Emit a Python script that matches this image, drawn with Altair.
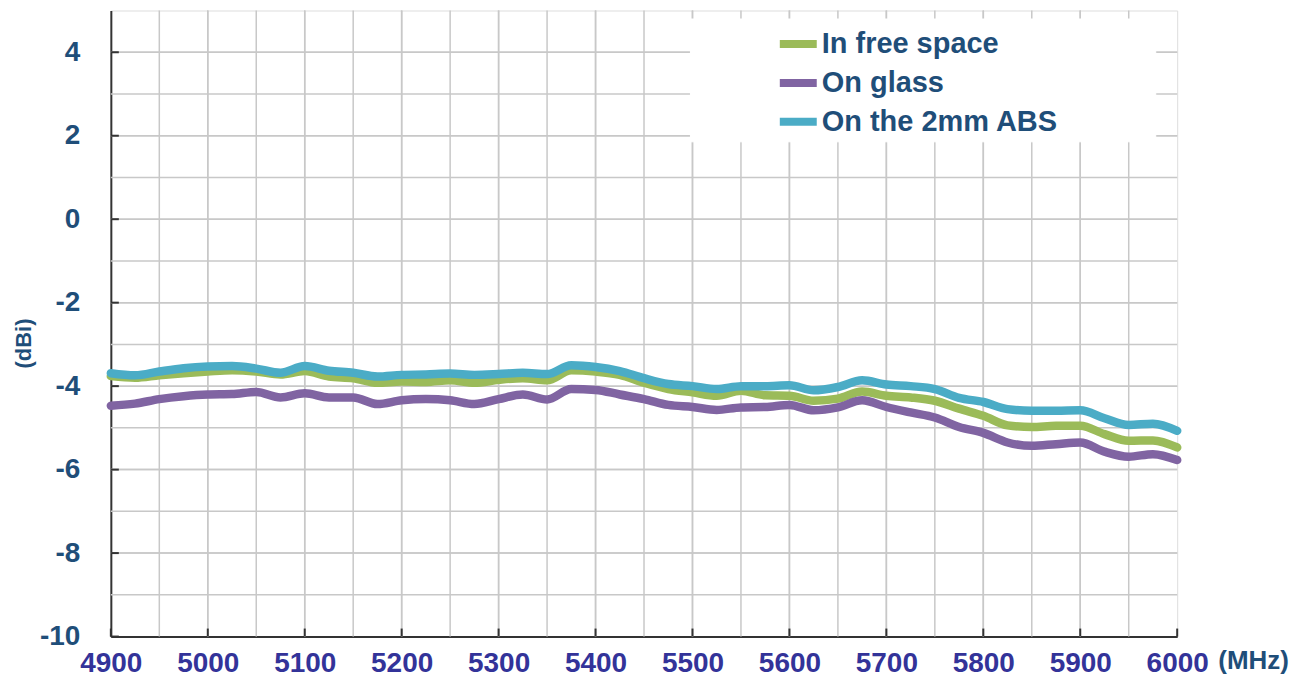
import altair as alt
import pandas as pd

freq = [4900, 4925, 4950, 4975, 5000, 5025, 5050, 5075, 5100, 5125, 5150,
        5175, 5200, 5225, 5250, 5275, 5300, 5325, 5350, 5375, 5400, 5425,
        5450, 5475, 5500, 5525, 5550, 5575, 5600, 5625, 5650, 5675, 5700,
        5725, 5750, 5775, 5800, 5825, 5850, 5875, 5900, 5925, 5950, 5975, 6000]

free_space = [-3.76, -3.80, -3.74, -3.69, -3.65, -3.62, -3.65, -3.72, -3.64, -3.77, -3.81,
              -3.92, -3.89, -3.90, -3.86, -3.92, -3.85, -3.81, -3.86, -3.62, -3.65, -3.73,
              -3.92, -4.07, -4.15, -4.23, -4.11, -4.22, -4.23, -4.35, -4.30, -4.13, -4.23,
              -4.27, -4.35, -4.54, -4.71, -4.94, -4.98, -4.95, -4.95, -5.15, -5.31, -5.30, -5.47]

glass = [-4.47, -4.42, -4.31, -4.24, -4.20, -4.19, -4.14, -4.27, -4.17, -4.27, -4.27,
         -4.43, -4.34, -4.31, -4.34, -4.43, -4.31, -4.20, -4.32, -4.07, -4.09, -4.20,
         -4.31, -4.45, -4.50, -4.57, -4.51, -4.50, -4.45, -4.58, -4.51, -4.34, -4.50,
         -4.63, -4.75, -4.98, -5.12, -5.35, -5.43, -5.39, -5.35, -5.57, -5.69, -5.63, -5.77]

abs_2mm = [-3.69, -3.74, -3.65, -3.57, -3.53, -3.52, -3.58, -3.68, -3.52, -3.63, -3.68,
           -3.77, -3.73, -3.72, -3.70, -3.73, -3.71, -3.68, -3.71, -3.50, -3.54, -3.64,
           -3.81, -3.95, -4.00, -4.07, -4.00, -4.00, -3.98, -4.10, -4.02, -3.86, -3.96,
           -4.00, -4.07, -4.28, -4.38, -4.55, -4.59, -4.59, -4.58, -4.77, -4.93, -4.90, -5.07]

series_names = ["In free space", "On glass", "On the 2mm ABS"]
series_colors = ["#9BBB59", "#8064A2", "#4BACC6"]
y_label_ticks = [-10, -8, -6, -4, -2, 0, 2, 4]
x_label_ticks = [4900, 5000, 5100, 5200, 5300, 5400, 5500, 5600, 5700, 5800, 5900, 6000]
x_grid = list(range(4950, 6000, 50))
y_grid = list(range(-9, 5, 1))

rows = []
for name, vals in zip(series_names, [free_space, glass, abs_2mm]):
    for f, v in zip(freq, vals):
        rows.append({"freq": f, "gain": v, "series": name})
df = pd.DataFrame(rows)

W, H = 1068, 627
BLUE = "#1F4E79"
XLAB = "#333399"
GRID = "#c8c8c8"
PAD_TAIL = "\u00a0" * 9 + "\u2800"

x_scale = alt.Scale(domain=[4900, 6000], nice=False, zero=False)
y_scale = alt.Scale(domain=[-10, 5], nice=False, zero=False)

x_axis = alt.Axis(
    values=x_label_ticks, labelExpr="'' + datum.value",
    labelFont="Liberation Sans", labelFontSize=28,
    labelFontWeight="bold", labelColor=XLAB, labelFlush=False, labelOverlap=False,
    labelPadding=13, tickSize=0, grid=False,
    domainColor="#333333", domainWidth=2,
    title="(MHz)", titleFont="Liberation Sans", titleFontSize=26, titleFontWeight="bold",
    titleColor=BLUE, titleX=1144, titleY=24, titleAlign="center", titleBaseline="middle",
    titleAngle=0)
y_axis = alt.Axis(
    values=y_label_ticks, labelExpr="'' + datum.value",
    labelFont="Liberation Sans", labelFontSize=28, labelFontWeight="bold",
    labelColor=BLUE, labelFlush=False, labelOverlap=False, labelPadding=31,
    tickSize=0, grid=False,
    domainColor="#333333", domainWidth=2, minExtent=103, maxExtent=103,
    title="(dBi)", titleFont="Liberation Sans", titleFontSize=22, titleFontWeight="bold",
    titleColor=BLUE, titleX=-87, titleY=333, titleAlign="center", titleBaseline="middle",
    titleAngle=270)

# grid lines
ygrid_df = pd.DataFrame({"gain": y_grid + y_label_ticks[1:]})
xgrid_df = pd.DataFrame({"freq": x_grid + x_label_ticks[1:-1]})

ygrid = alt.Chart(ygrid_df).mark_rule(color=GRID, strokeWidth=1.5).encode(
    y=alt.Y("gain:Q", scale=y_scale, axis=y_axis),
    x=alt.value(0), x2=alt.value(W),
)
xgrid = alt.Chart(xgrid_df).mark_rule(color=GRID, strokeWidth=1.5).encode(
    x=alt.X("freq:Q", scale=x_scale, axis=x_axis),
    y=alt.value(0), y2=alt.value(H),
)

lines = alt.Chart(df).mark_line(
    strokeWidth=8.5, strokeCap="round", strokeJoin="round", interpolate="monotone"
).encode(
    x=alt.X("freq:Q", scale=x_scale, axis=x_axis),
    y=alt.Y("gain:Q", scale=y_scale, axis=y_axis),
    color=alt.Color("series:N", scale=alt.Scale(domain=series_names, range=series_colors),
                    legend=alt.Legend(
                        title=None, orient="none", legendX=580, legendY=8,
                        fillColor="white", strokeColor="white", padding=3,
                        symbolType="stroke", symbolSize=1369, symbolStrokeWidth=8,
                        symbolOffset=83, labelOffset=1, rowPadding=-2,
                        labelFont="Liberation Sans", labelFontSize=29, labelFontWeight="bold",
                        labelColor=BLUE, labelLimit=800,
                        labelExpr="datum.label + '" + PAD_TAIL + "'")),
)

ydf = pd.DataFrame({"gain": y_label_ticks})
xdf = pd.DataFrame({"freq": x_label_ticks})

yticks = alt.Chart(ydf).mark_rule(color="#333333", strokeWidth=2).encode(
    y=alt.Y("gain:Q", scale=y_scale, axis=y_axis),
    x=alt.value(0), x2=alt.value(8),
)
xticks = alt.Chart(xdf).mark_rule(color="#333333", strokeWidth=2).encode(
    x=alt.X("freq:Q", scale=x_scale, axis=x_axis),
    y=alt.value(H), y2=alt.value(H - 8),
)

chart = alt.layer(ygrid, xgrid, lines, yticks, xticks).properties(
    width=W, height=H,
    padding={"left": 0, "top": 1, "right": 10, "bottom": 5},
).configure_view(stroke="#8c8c8c", strokeWidth=1.5).configure(background="white")

chart.save("out.html", embed_options={"renderer": "svg", "actions": False})
